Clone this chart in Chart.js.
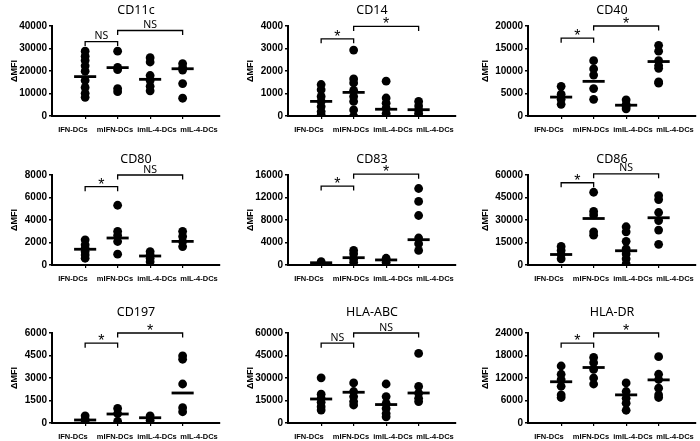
<!DOCTYPE html>
<html>
<head>
<meta charset="utf-8">
<script src="https://cdn.jsdelivr.net/npm/chart.js@4.4.1/dist/chart.umd.min.js"></script>
<style>
  body { margin: 0; background: #fff; width: 700px; height: 441px; overflow: hidden; position: relative; }
  .panel { position: absolute; }
</style>
</head>
<body>
<script>
var groups = ["IFN-DCs", "mIFN-DCs", "imIL-4-DCs", "mIL-4-DCs"];
var markers = ["CD11c", "CD14", "CD40", "CD80", "CD83", "CD86", "CD197", "HLA-ABC", "HLA-DR"];
var yMax = [40000, 4000, 20000, 8000, 16000, 60000, 6000, 60000, 24000];
var yStep = [10000, 1000, 5000, 2000, 4000, 15000, 1500, 15000, 6000];

// dot values per group: IFN-DCs, mIFN-DCs, imIL-4-DCs, mIL-4-DCs
var cd11c = [[28800, 26600, 24700, 22300, 19900, 15800, 12700, 10100, 8300], [28800, 21600, 20600, 12200, 10800], [25900, 24000, 18000, 15800, 13200, 11200], [23300, 21600, 20400, 14400, 7900]];
var cd14 = [[1400, 1170, 870, 650, 420, 200, 50], [2930, 1650, 1470, 1140, 870, 650, 270, 0], [1550, 800, 570, 350, 120, 0], [650, 450, 270, 120, 0]];
var cd40 = [[6600, 4850, 3700, 2600], [12300, 10450, 9100, 6100, 3700], [3600, 2600, 2100, 1600], [15700, 14400, 12300, 11200, 10600, 7600, 7300]];
var cd80 = [[2240, 1790, 1490, 1190, 900, 600], [5310, 2990, 2630, 2090, 960], [1190, 900, 600, 300], [2990, 2540, 2090, 1640]];
var cd83 = [[600, 180], [2590, 1990, 1080, 480], [1200, 480], [13600, 11300, 8800, 4800, 3800, 2600]];
var cd86 = [[12400, 9700, 7000, 4100], [48500, 35700, 33400, 22100, 19900], [25500, 22100, 15800, 10800, 7400, 4100, 700], [46300, 43600, 35000, 29600, 23300, 13800]];
var cd197 = [[480, 250, 70], [970, 630, 110], [480, 180], [4480, 4250, 2600, 1020, 750]];
var hlaAbc = [[30100, 19200, 16500, 13800, 10900, 8600], [26700, 21000, 17600, 14300, 12000], [26000, 17600, 13100, 9700, 6300, 4100], [46400, 24400, 19900, 16500, 14300]];
var hlaDr = [[15200, 13000, 11600, 9800, 7500, 6800], [17500, 16100, 14300, 12000, 10400], [10700, 8400, 6600, 5300, 3400], [17700, 13000, 11600, 9300, 7500, 6800]];
var allValues = [cd11c, cd14, cd40, cd80, cd83, cd86, cd197, hlaAbc, hlaDr];

var medians = [
  [17500, 21500, 16300, 21000],
  [650, 1050, 300, 280],
  [4200, 7700, 2400, 12100],
  [1400, 2400, 800, 2100],
  [400, 1300, 900, 4500],
  [7000, 31000, 9500, 31500],
  [200, 600, 350, 2000],
  [16000, 20500, 12300, 20000],
  [11000, 14800, 7500, 11500]
];

// significance brackets: IFN vs mIFN, mIFN vs mIL-4
var sigPairs = [[0, 1], [1, 3]];
var sigLabels = [["NS", "NS"], ["*", "*"], ["*", "*"], ["*", "NS"], ["*", "*"], ["*", "NS"], ["*", "*"], ["NS", "NS"], ["*", "*"]];
var sigHeights = [[33100, 38000], [3430, 3980], [17300, 20000], [6960, 8000], [14040, 16140], [54850, 60800], [5320, 6000], [53200, 60000], [21300, 24000]];

// layout of the 3x3 grid (page px)
var axisX = [52, 288, 528];
var chartTop = [25.5, 175, 333];
var titleGap = [8, 8, 13];
var yTitlePad = [9.5, 9.5, 4];
var plotH = 90;

var brackets = {
  id: "brackets",
  afterDatasetsDraw: function (chart, args, opts) {
    var xs = chart.scales.x, ys = chart.scales.y, ctx = chart.ctx;
    ctx.save();
    ctx.strokeStyle = "#000";
    ctx.fillStyle = "#000";
    ctx.lineWidth = 1.3;
    ctx.textAlign = "center";
    opts.pairs.forEach(function (p, k) {
      var x1 = xs.getPixelForValue(p[0]);
      var x2 = xs.getPixelForValue(p[1]);
      var yy = ys.getPixelForValue(opts.heights[k]);
      ctx.beginPath();
      ctx.moveTo(x1, yy + 4.5);
      ctx.lineTo(x1, yy);
      ctx.lineTo(x2, yy);
      ctx.lineTo(x2, yy + 4.5);
      ctx.stroke();
      var lab = opts.labels[k];
      if (lab === "*") {
        ctx.font = "16px 'Liberation Sans', Arial";
        ctx.fillText(lab, (x1 + x2) / 2, yy + 3);
      } else {
        ctx.font = "10.5px 'Noto Sans', 'Liberation Sans'";
        ctx.fillText(lab, (x1 + x2) / 2, yy - 2.5);
      }
    });
    ctx.restore();
  }
};

markers.forEach(function (name, i) {
  var col = i % 3, row = Math.floor(i / 3);
  var titleBlock = 3 + 15 + titleGap[row];
  var div = document.createElement("div");
  div.className = "panel";
  div.style.left = (axisX[col] - 52) + "px";
  div.style.top = (chartTop[row] - titleBlock) + "px";
  div.style.width = "233px";
  div.style.height = (titleBlock + plotH + 3 + 24) + "px";
  var cv = document.createElement("canvas");
  div.appendChild(cv);
  document.body.appendChild(div);

  var datasets = [];
  allValues[i].forEach(function (vals, g) {
    datasets.push({
      type: "scatter",
      data: vals.map(function (v) { return { x: g, y: v }; }),
      backgroundColor: "#000",
      borderWidth: 0,
      pointRadius: 4.4
    });
  });
  medians[i].forEach(function (m, g) {
    datasets.push({
      type: "line",
      data: [{ x: g - 0.34, y: m }, { x: g + 0.34, y: m }],
      borderColor: "#000",
      borderWidth: 2.8,
      pointRadius: 0,
      fill: false
    });
  });

  new Chart(cv, {
    type: "scatter",
    data: { datasets: datasets },
    plugins: [brackets],
    options: {
      responsive: true,
      maintainAspectRatio: false,
      animation: false,
      layout: { padding: { left: 0, right: 13, top: 0, bottom: 0 } },
      plugins: {
        legend: { display: false },
        tooltip: { enabled: false },
        title: {
          display: true,
          text: name,
          fullSize: false,
          color: "#000",
          font: { family: "'Noto Sans', 'Liberation Sans'", size: 12.5, weight: "normal" },
          padding: { top: 3, bottom: titleGap[row] }
        },
        brackets: { pairs: sigPairs, labels: sigLabels[i], heights: sigHeights[i] }
      },
      scales: {
        x: {
          type: "linear",
          position: "bottom",
          weight: 0,
          min: -1.02,
          max: 4.15,
          afterBuildTicks: function (s) {
            s.ticks = [0, 1, 2, 3].map(function (v) { return { value: v }; });
          },
          ticks: { display: false },
          grid: { display: true, drawOnChartArea: false, drawTicks: true, tickLength: 3, color: "#000", lineWidth: 1.2 },
          border: { display: true, color: "#000", width: 2 }
        },
        xl: {
          type: "category",
          labels: groups,
          position: "bottom",
          weight: 1,
          offset: true,
          afterFit: function (s) { s.height = 24; },
          grid: { display: false, drawTicks: false },
          border: { display: false },
          ticks: { color: "#000", padding: 6, maxRotation: 0, autoSkip: false, font: { family: "'Liberation Sans', Arial", size: 7.5, weight: "bold" } }
        },
        y: {
          min: 0,
          max: yMax[i],
          afterFit: function (s) { s.width = 52; },
          afterBuildTicks: function (s) {
            var t = [];
            for (var v = 0; v <= yMax[i]; v += yStep[i]) t.push({ value: v });
            s.ticks = t;
          },
          ticks: {
            color: "#000",
            padding: 2,
            font: { family: "'Liberation Sans', Arial", size: 10, weight: "bold" },
            callback: function (v) { return String(v); }
          },
          grid: { drawOnChartArea: false, drawTicks: true, tickLength: 3, color: "#000", lineWidth: 1.5 },
          border: { display: true, color: "#000", width: 2 },
          title: { display: true, text: "ΔMFI", color: "#000", padding: { top: yTitlePad[col], bottom: 0 }, font: { family: "'Liberation Sans', Arial", size: 9, weight: "bold" } }
        }
      }
    }
  });
});
</script>
</body>
</html>
